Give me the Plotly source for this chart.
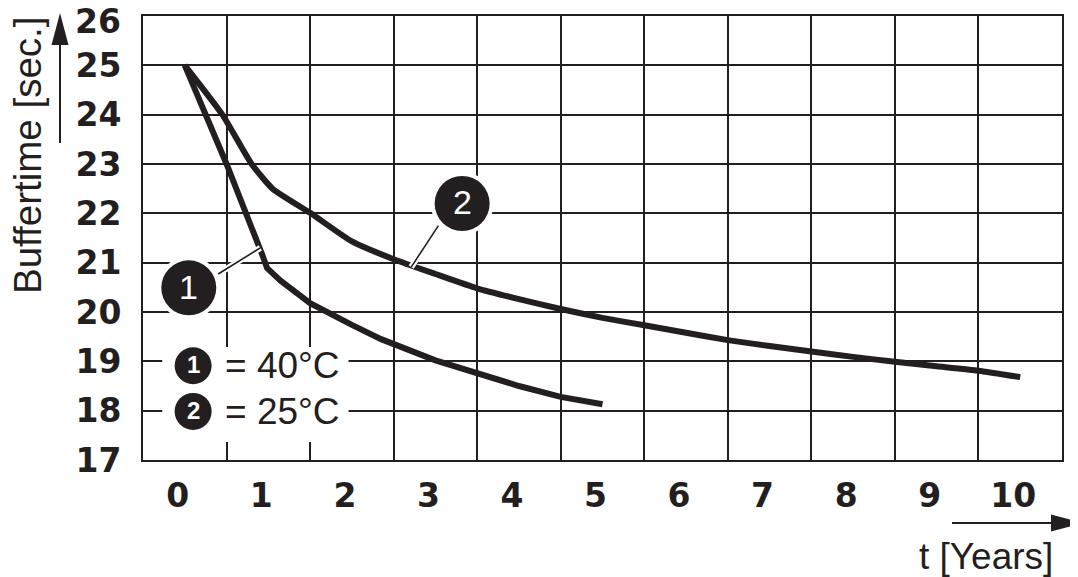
import plotly.graph_objects as go

# ---- data ----
t_40 = [0, 0.5, 0.93, 0.985, 1.15, 1.5, 2.0, 2.35, 3.0, 3.5, 4.0, 4.5, 5.0]
v_40 = [25.0, 23.0, 21.15, 20.89, 20.63, 20.18, 19.74, 19.45, 19.02, 18.76, 18.5, 18.28, 18.13]
t_25 = [0, 0.45, 0.8, 1.05, 1.5, 2.0, 2.5, 3.0, 3.5, 4.0, 4.5, 5.0, 5.5, 6.0, 6.5, 7.0, 7.5, 8.0, 8.5, 9.0, 9.5, 10.0]
v_25 = [25.0, 24.0, 23.0, 22.5, 22.01, 21.43, 21.07, 20.77, 20.48, 20.26, 20.06, 19.88, 19.73, 19.58,
        19.43, 19.31, 19.20, 19.09, 18.99, 18.90, 18.81, 18.68]
x_ticks = list(range(0, 11))
x_tick_labels = [str(v) for v in x_ticks]
y_ticks = list(range(17, 27))
y_tick_labels = [str(v) for v in y_ticks]
series_names = ["1", "2"]
series_labels = ["= 40°C", "= 25°C"]
y_title = "Buffertime [sec.]"
x_title = "t [Years]"

INK = "#231f20"
OFF = 8  # page body margin
W, H = 1070, 569
L, R, T, B = 135, 16, 8, 117
PW, PH = W - L - R, H - T - B


def px(p):
    """page pixel x -> paper coordinate"""
    return (p - OFF - L) / PW


def py(p):
    """page pixel y -> paper coordinate"""
    return (H - B - (p - OFF)) / PH


REG = "Liberation Sans"
BOLD = "DejaVu Sans"
tickfont = dict(family=BOLD, size=33, color=INK, weight="bold")

fig = go.Figure()
fig.add_trace(go.Scatter(x=t_40, y=v_40, mode="lines",
                         line=dict(color=INK, width=6), hoverinfo="skip", showlegend=False))
fig.add_trace(go.Scatter(x=t_25, y=v_25, mode="lines",
                         line=dict(color=INK, width=6, shape="spline", smoothing=0.5),
                         hoverinfo="skip", showlegend=False))

shapes = []
# white box behind the key
shapes.append(dict(type="rect", xref="x", yref="y", x0=-0.27, x1=1.96, y0=17.365, y1=19.29,
                   fillcolor="white", line=dict(width=0), layer="between"))

# leader lines (white casing + black line)
leaders = [((0.40, 20.77), (0.904, 21.30)), ((3.036, 21.75), (2.71, 20.91))]
for (xa, ya), (xb, yb) in leaders:
    shapes.append(dict(type="line", xref="x", yref="y", x0=xa, y0=ya, x1=xb, y1=yb,
                       line=dict(color="white", width=6), layer="above"))
    shapes.append(dict(type="line", xref="x", yref="y", x0=xa, y0=ya, x1=xb, y1=yb,
                       line=dict(color=INK, width=1.6), layer="above"))

annotations = []


def badge(xc, yc, d, label, size, weight, halo):
    if halo:
        r = d / 2 + 4
        shapes.append(dict(type="circle", xref="x", yref="y", xsizemode="pixel", ysizemode="pixel",
                           xanchor=xc, yanchor=yc, x0=-r, x1=r, y0=-r, y1=r,
                           fillcolor="white", line=dict(width=0), layer="above"))
    r = d / 2
    shapes.append(dict(type="circle", xref="x", yref="y", xsizemode="pixel", ysizemode="pixel",
                       xanchor=xc, yanchor=yc, x0=-r, x1=r, y0=-r, y1=r,
                       fillcolor=INK, line=dict(width=0), layer="above"))
    annotations.append(dict(x=xc, y=yc, xref="x", yref="y", text=label, showarrow=False,
                            xanchor="center", yanchor="middle", yshift=1,
                            font=dict(family=REG, size=size, color="white", weight=weight)))


# big callouts
badge(0.048, 20.49, 55, series_names[0], 34, "normal", True)
badge(3.32, 22.20, 55, series_names[1], 34, "normal", True)
# key
key_y = [18.91, 17.985]
for i in range(2):
    badge(0.10, key_y[i], 37, series_names[i], 24, "bold", False)
    annotations.append(dict(x=0.457, y=key_y[i], xref="x", yref="y", text=series_labels[i],
                            showarrow=False, xanchor="left", yanchor="middle", yshift=0,
                            font=dict(family=REG, size=37, color=INK)))

# top y tick label is nudged down in the reference so it fits inside the frame
y_ticktext = y_tick_labels[:-1] + [""]
annotations.append(dict(x=px(123), y=y_ticks[-1], xref="paper", yref="y", text=y_tick_labels[-1],
                        showarrow=False, xanchor="right", yanchor="middle", yshift=-5,
                        font=tickfont))

# axis titles
annotations.append(dict(x=px(27), y=py(156), xref="paper", yref="paper", text=y_title,
                        textangle=-90, showarrow=False, xanchor="center", yanchor="middle",
                        font=dict(family=REG, size=38.5, color=INK)))
annotations.append(dict(x=px(986), y=py(556), xref="paper", yref="paper", text=x_title,
                        showarrow=False, xanchor="center", yanchor="middle",
                        font=dict(family=REG, size=37, color=INK)))

# axis arrows (paper coordinates)
shapes.append(dict(type="line", xref="paper", yref="paper", x0=px(60), x1=px(60), y0=py(143), y1=py(40),
                   line=dict(color=INK, width=2)))
shapes.append(dict(type="path", xref="paper", yref="paper",
                   path=f"M {px(60)} {py(13)} L {px(51.5)} {py(45)} L {px(68.5)} {py(45)} Z",
                   fillcolor=INK, line=dict(width=0)))
shapes.append(dict(type="line", xref="paper", yref="paper", x0=px(952), x1=px(1056), y0=py(523), y1=py(523),
                   line=dict(color=INK, width=2)))
shapes.append(dict(type="path", xref="paper", yref="paper",
                   path=f"M {px(1084)} {py(523)} L {px(1051)} {py(514.5)} L {px(1051)} {py(531.5)} Z",
                   fillcolor=INK, line=dict(width=0)))

fig.update_layout(
    width=W, height=H, margin=dict(l=L, r=R, t=T, b=B, autoexpand=False),
    paper_bgcolor="white", plot_bgcolor="white",
    shapes=shapes, annotations=annotations,
    xaxis=dict(range=[-0.5, 10.5], tickmode="array", tickvals=x_ticks, ticktext=x_tick_labels,
               showgrid=False, ticks="", zeroline=False, showline=True, mirror=True,
               linecolor=INK, linewidth=2, tickfont=tickfont, ticklabelshift=-7,
               ticklabelstandoff=5, ticklabeloverflow="allow", automargin=False,
               minor=dict(tickmode="linear", tick0=-0.5, dtick=1, showgrid=True,
                          gridcolor=INK, gridwidth=2, ticks="")),
    yaxis=dict(range=[17, 26], tickmode="array", tickvals=y_ticks, ticktext=y_ticktext,
               showgrid=True, gridcolor=INK, gridwidth=2, ticks="", zeroline=False,
               showline=True, mirror=True, linecolor=INK, linewidth=2, tickfont=tickfont,
               ticklabelstandoff=13, ticklabeloverflow="allow", automargin=False),
)

fig.write_html("out.html")
